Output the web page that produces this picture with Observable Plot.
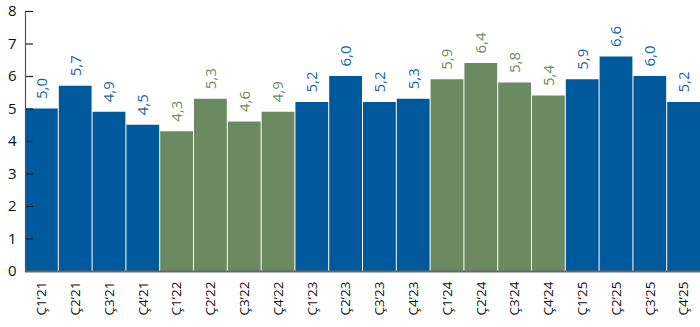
<!DOCTYPE html>
<html>
<head>
<meta charset="utf-8">
<script src="https://cdn.jsdelivr.net/npm/d3@7"></script>
<script src="https://cdn.jsdelivr.net/npm/@observablehq/plot@0.6"></script>
<style>
  html, body { margin: 0; padding: 0; background: #fff; }
  #chart svg { display: block; }
</style>
</head>
<body>
<div id="chart"></div>
<script>
// Quarterly values, 2021–2025
const quarters = [
  "Ç1’21", "Ç2’21", "Ç3’21", "Ç4’21",
  "Ç1’22", "Ç2’22", "Ç3’22", "Ç4’22",
  "Ç1’23", "Ç2’23", "Ç3’23", "Ç4’23",
  "Ç1’24", "Ç2’24", "Ç3’24", "Ç4’24",
  "Ç1’25", "Ç2’25", "Ç3’25", "Ç4’25"
];
const values = [
  5.0, 5.7, 4.9, 4.5,
  4.3, 5.3, 4.6, 4.9,
  5.2, 6.0, 5.2, 5.3,
  5.9, 6.4, 5.8, 5.4,
  5.9, 6.6, 6.0, 5.2
];
const years = [
  "2021", "2021", "2021", "2021",
  "2022", "2022", "2022", "2022",
  "2023", "2023", "2023", "2023",
  "2024", "2024", "2024", "2024",
  "2025", "2025", "2025", "2025"
];
const yTicks = [0, 1, 2, 3, 4, 5, 6, 7, 8];

const yearColor = {
  "2021": "#00599d", "2022": "#6b8a61", "2023": "#00599d",
  "2024": "#6b8a61", "2025": "#00599d"
};
const labelColor = {
  "2021": "#1f63a6", "2022": "#6f8c64", "2023": "#1f63a6",
  "2024": "#6f8c64", "2025": "#1f63a6"
};

const data = quarters.map((q, i) => ({q, v: values[i], year: years[i]}));

const width = 700, height = 327;
const marginLeft = 25, marginRight = 0;
const plotWidth = width - marginLeft - marginRight;

const chart = Plot.plot({
  width, height,
  marginTop: 11, marginBottom: 56, marginLeft, marginRight,
  style: {fontFamily: "'Open Sans', sans-serif", fontSize: "13px", color: "#111"},
  x: {domain: quarters, paddingInner: 0.03, paddingOuter: 0, align: 0, round: false, label: null},
  y: {domain: [0, 8], label: null},
  marks: [
    Plot.barY(data, {x: "q", y: "v", fill: d => yearColor[d.year]}),
    Plot.ruleY(yTicks.slice(1), {stroke: "#222", strokeWidth: 1.2, insetRight: plotWidth - 8}),
    Plot.ruleY([0], {stroke: "#666", strokeWidth: 2}),
    Plot.frame({anchor: "left", stroke: "#555", strokeWidth: 1.2}),
    Plot.text(data, {
      x: "q", y: "v",
      text: d => d.v.toFixed(1).replace(".", ","),
      rotate: -90, textAnchor: "start", dy: -10,
      fill: d => labelColor[d.year], fontSize: 15
    }),
    Plot.axisY({ticks: yTicks, tickSize: 0, tickPadding: 9, fontSize: 15, tickFormat: d => d}),
    Plot.axisX({tickSize: 0, tickPadding: 10, tickRotate: -90, fontSize: 13.5})
  ]
});
document.getElementById("chart").append(chart);
</script>
</body>
</html>
